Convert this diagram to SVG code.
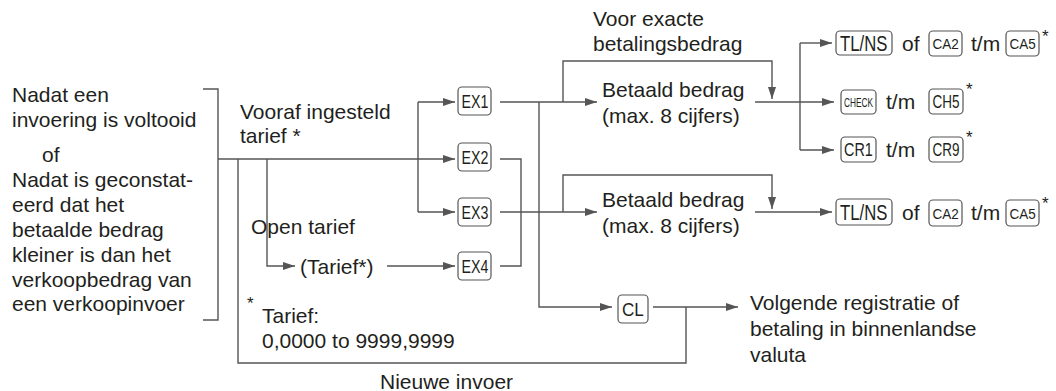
<svg xmlns="http://www.w3.org/2000/svg" width="1056" height="391" viewBox="0 0 1056 391">
<style>
text{font-family:"Liberation Sans",Arial,Helvetica,sans-serif;fill:#231f20;}
.t{font-size:21px;}
.k{fill:#fff;stroke:#555;stroke-width:1.2;}
.ln{fill:none;stroke:#555;stroke-width:1.4;}
.ast{font-size:17px;}
</style>
<defs>
<marker id="ah" markerUnits="userSpaceOnUse" markerWidth="13" markerHeight="9" refX="12" refY="4" orient="auto">
<path d="M0,0 L12,4 L0,8 z" fill="#555"/>
</marker>
</defs>
<g id="connectors" class="ln">
<path d="M203,89 H218 V320 H203"/>
<path d="M218,159 H455" marker-end="url(#ah)"/>
<path d="M267,159 V266 H295" marker-end="url(#ah)"/>
<path d="M387,266 H455" marker-end="url(#ah)"/>
<path d="M418,102 V212"/>
<path d="M418,102 H455" marker-end="url(#ah)"/>
<path d="M418,212 H455" marker-end="url(#ah)"/>
<path d="M500,102 H597" marker-end="url(#ah)"/>
<path d="M500,212 H597" marker-end="url(#ah)"/>
<path d="M500,159 H521 V266 H500"/>
<path d="M539,102 V307 H612" marker-end="url(#ah)"/>
<path d="M563,102 V61 H772 V99" marker-end="url(#ah)"/>
<path d="M563,212 V175 H772 V209" marker-end="url(#ah)"/>
<path d="M755,102 H834" marker-end="url(#ah)"/>
<path d="M800,43 V150"/>
<path d="M800,43 H832" marker-end="url(#ah)"/>
<path d="M800,150 H834" marker-end="url(#ah)"/>
<path d="M755,212 H832" marker-end="url(#ah)"/>
<path d="M653,307 H738" marker-end="url(#ah)"/>
<path d="M686,307 V363 H238 V159"/>
</g>
<g id="start">
<text class="t" x="12" y="102">Nadat een</text>
<text class="t" x="12" y="127">invoering is voltooid</text>
<text class="t" x="42" y="162">of</text>
<text class="t" x="12" y="187">Nadat is geconstat-</text>
<text class="t" x="12" y="212">eerd dat het</text>
<text class="t" x="12" y="237">betaalde bedrag</text>
<text class="t" x="12" y="262">kleiner is dan het</text>
<text class="t" x="12" y="287">verkoopbedrag van</text>
<text class="t" x="12" y="311">een verkoopinvoer</text>
</g>
<g id="preset-rate">
<text class="t" x="240" y="119">Vooraf ingesteld</text>
<text class="t" x="240" y="143">tarief *</text>
</g>
<g id="open-rate">
<text class="t" x="251" y="234">Open tarief</text>
<text class="t" x="300" y="274">(Tarief*)</text>
</g>
<g id="ex1"><rect class="k" x="458" y="87" width="33" height="28" rx="4"/><text font-size="18" transform="translate(461.5,108) scale(0.79,1)">EX1</text></g>
<g id="ex2"><rect class="k" x="458" y="143" width="33" height="28" rx="4"/><text font-size="18" transform="translate(461.5,164) scale(0.79,1)">EX2</text></g>
<g id="ex3"><rect class="k" x="458" y="198" width="33" height="28" rx="4"/><text font-size="18" transform="translate(461.5,219) scale(0.79,1)">EX3</text></g>
<g id="ex4"><rect class="k" x="458" y="252" width="33" height="28" rx="4"/><text font-size="18" transform="translate(461.5,273) scale(0.79,1)">EX4</text></g>
<g id="exact-label">
<text class="t" x="593" y="26">Voor exacte</text>
<text class="t" x="593" y="51">betalingsbedrag</text>
</g>
<g id="amount1">
<text class="t" x="602" y="97">Betaald bedrag</text>
<text class="t" x="602" y="123">(max. 8 cijfers)</text>
</g>
<g id="amount2">
<text class="t" x="602" y="207">Betaald bedrag</text>
<text class="t" x="602" y="233">(max. 8 cijfers)</text>
</g>
<g id="row1">
<rect class="k" x="836" y="31" width="56" height="24" rx="4"/><text font-size="22" transform="translate(840,51) scale(0.76,1)">TL/NS</text>
<text class="t" x="902" y="51">of</text>
<rect class="k" x="929" y="31" width="33" height="25" rx="4"/><text font-size="15" transform="translate(932.5,49) scale(0.9,1)">CA2</text>
<text class="t" x="971" y="51">t/m</text>
<rect class="k" x="1006" y="31" width="33" height="25" rx="4"/><text font-size="15" transform="translate(1009.5,49) scale(0.9,1)">CA5</text>
<text class="ast" x="1042" y="42">*</text>
</g>
<g id="row2">
<rect class="k" x="841" y="90" width="35" height="24" rx="4"/><text font-size="13" transform="translate(844,107) scale(0.64,1)">CHECK</text>
<text class="t" x="886" y="109">t/m</text>
<rect class="k" x="929" y="89" width="34" height="25" rx="4"/><text font-size="18" transform="translate(932.5,108) scale(0.75,1)">CH5</text>
<text class="ast" x="966" y="95">*</text>
</g>
<g id="row3">
<rect class="k" x="841" y="137" width="35" height="25" rx="4"/><text font-size="18" transform="translate(844,156) scale(0.8,1)">CR1</text>
<text class="t" x="886" y="157">t/m</text>
<rect class="k" x="929" y="137" width="34" height="25" rx="4"/><text font-size="18" transform="translate(932.5,156) scale(0.75,1)">CR9</text>
<text class="ast" x="966" y="143">*</text>
</g>
<g id="row4">
<rect class="k" x="836" y="199" width="56" height="26" rx="4"/><text font-size="22" transform="translate(840,220) scale(0.76,1)">TL/NS</text>
<text class="t" x="902" y="220">of</text>
<rect class="k" x="929" y="200" width="33" height="26" rx="4"/><text font-size="15" transform="translate(932.5,219) scale(0.9,1)">CA2</text>
<text class="t" x="971" y="220">t/m</text>
<rect class="k" x="1006" y="200" width="33" height="26" rx="4"/><text font-size="15" transform="translate(1009.5,219) scale(0.9,1)">CA5</text>
<text class="ast" x="1042" y="209">*</text>
</g>
<g id="cl"><rect class="k" x="618" y="295" width="30" height="28" rx="4"/><text font-size="19" transform="translate(622,316) scale(0.9,1)">CL</text></g>
<g id="next">
<text class="t" x="750" y="310">Volgende registratie of</text>
<text class="t" x="750" y="336">betaling in binnenlandse</text>
<text class="t" x="750" y="362">valuta</text>
</g>
<g id="footnote">
<text class="ast" x="247" y="309">*</text>
<text class="t" x="262" y="323">Tarief:</text>
<text class="t" x="262" y="348">0,0000 to 9999,9999</text>
</g>
<g id="new-entry"><text class="t" x="380" y="389">Nieuwe invoer</text></g>
</svg>
